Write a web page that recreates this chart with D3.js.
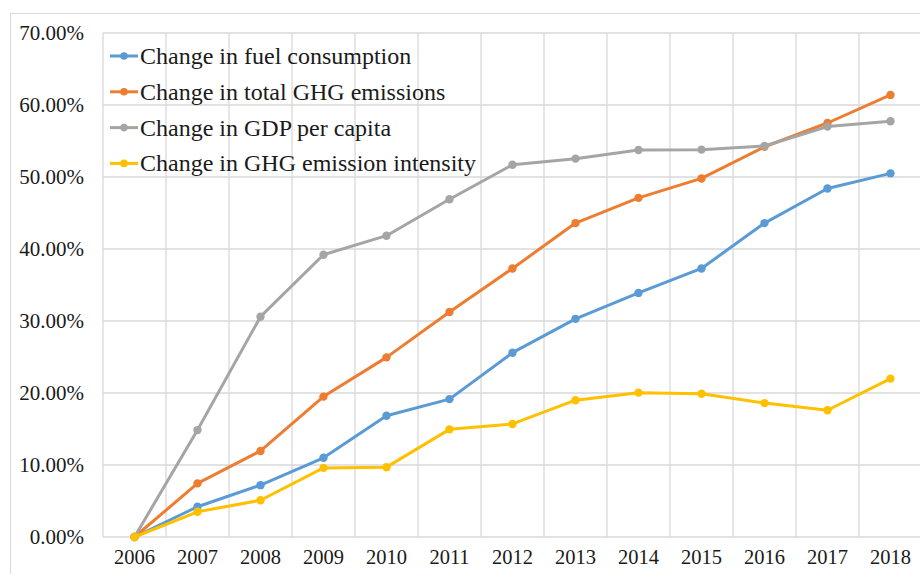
<!DOCTYPE html>
<html><head><meta charset="utf-8">
<script src="https://cdn.jsdelivr.net/npm/d3@7"></script>
<style>html,body{margin:0;padding:0;background:#fff;}svg{display:block;}</style>
</head><body>
<script>
const years = ["2006","2007","2008","2009","2010","2011","2012","2013","2014","2015","2016","2017","2018"];
const fuelConsumption = [0, 4.2, 7.2, 11.0, 16.85, 19.15, 25.6, 30.3, 33.9, 37.3, 43.6, 48.4, 50.5];
const totalGHG = [0, 7.45, 11.95, 19.5, 24.95, 31.25, 37.3, 43.6, 47.1, 49.8, 54.2, 57.5, 61.4];
const gdpPerCapita = [0, 14.85, 30.6, 39.2, 41.85, 46.9, 51.7, 52.55, 53.75, 53.8, 54.3, 57.0, 57.75];
const ghgIntensity = [0, 3.5, 5.1, 9.6, 9.7, 14.95, 15.7, 19.0, 20.05, 19.9, 18.6, 17.6, 22.0];
const seriesNames = ["Change in fuel consumption","Change in total GHG emissions","Change in GDP per capita","Change in GHG emission intensity"];
const seriesColors = ["#5B9BD5","#ED7D31","#A5A5A5","#FFC000"];
const yTicks = [0,10,20,30,40,50,60,70];

const series = [fuelConsumption, totalGHG, gdpPerCapita, ghgIntensity].map((v,i)=>({name:seriesNames[i], color:seriesColors[i], values:v}));

const W = 920, H = 574;
const pLeft = 103, pTop = 33, pBottom = 537, bandW = 63;
const pRight = pLeft + bandW*years.length;

const svg = d3.select("body").append("svg").attr("width",W).attr("height",H);
svg.append("rect").attr("x",10.5).attr("y",13.5).attr("width",940).attr("height",600)
  .attr("fill","#fff").attr("stroke","#d9d9d9").attr("stroke-width",1);

const x = d3.scaleBand().domain(years).range([pLeft,pRight]).padding(0);
const y = d3.scaleLinear().domain([0,70]).range([pBottom,pTop]);

const grid = svg.append("g").attr("stroke","#d9d9d9").attr("stroke-width",1.3);
grid.selectAll("line.h").data(yTicks).join("line").attr("class","h")
  .attr("x1",pLeft).attr("x2",pRight).attr("y1",d=>y(d)).attr("y2",d=>y(d));
grid.selectAll("line.v").data(years.map(yy=>x(yy)).concat([pRight])).join("line").attr("class","v")
  .attr("x1",d=>d).attr("x2",d=>d).attr("y1",pTop).attr("y2",pBottom);

const font = "'Liberation Serif','Times New Roman',serif";
svg.append("g").selectAll("text").data(yTicks).join("text")
  .attr("x",84).attr("y",d=>y(d)).attr("dy","0.35em").attr("text-anchor","end")
  .attr("font-family",font).attr("font-size",21).attr("fill","#1a1a1a")
  .text(d=>d3.format(".2f")(d)+"%");
svg.append("g").selectAll("text").data(years).join("text")
  .attr("x",d=>x(d)+bandW/2).attr("y",564).attr("text-anchor","middle")
  .attr("font-family",font).attr("font-size",20.5).attr("fill","#1a1a1a")
  .text(d=>d);

const line = d3.line().x((d,i)=>x(years[i])+bandW/2).y(d=>y(d));
series.forEach(s=>{
  const g = svg.append("g");
  g.append("path").attr("d",line(s.values)).attr("fill","none").attr("stroke",s.color)
    .attr("stroke-width",3).attr("stroke-linejoin","round");
  g.selectAll("circle").data(s.values).join("circle")
    .attr("cx",(d,i)=>x(years[i])+bandW/2).attr("cy",d=>y(d)).attr("r",4.2).attr("fill",s.color);
});

const leg = svg.append("g");
series.forEach((s,i)=>{
  const cy = 56 + i*35.8;
  leg.append("line").attr("x1",110).attr("x2",138).attr("y1",cy).attr("y2",cy)
    .attr("stroke",s.color).attr("stroke-width",3);
  leg.append("circle").attr("cx",124).attr("cy",cy).attr("r",3.8).attr("fill",s.color);
  leg.append("text").attr("x",140).attr("y",cy).attr("dy","0.33em")
    .attr("font-family",font).attr("font-size",24).attr("fill","#1a1a1a").text(s.name);
});
</script>
</body></html>
